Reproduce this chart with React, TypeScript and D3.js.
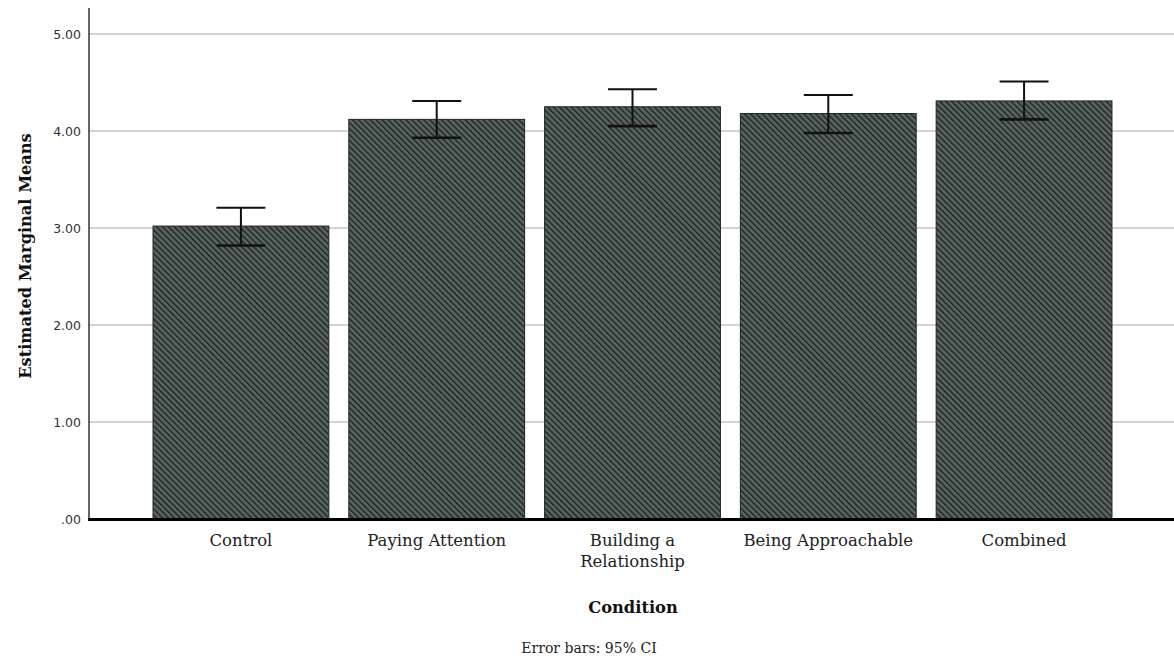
import React from "react";
import * as d3 from "d3";

const categories = ["Control", "Paying Attention", "Building a\nRelationship", "Being Approachable", "Combined"];
const means = [3.02, 4.12, 4.25, 4.18, 4.31];
const ciLow = [2.82, 3.93, 4.05, 3.98, 4.12];
const ciHigh = [3.21, 4.31, 4.43, 4.37, 4.51];
const yTicks = [0, 1, 2, 3, 4, 5];

const W = 1174;
const H = 659;
const SERIF = "DejaVu Serif, serif";

export default function App() {
  const x = d3.scaleBand<string>().domain(categories).range([89, 1176]).paddingInner(0.102).paddingOuter(0.327);
  const y = d3.scaleLinear().domain([0, 5]).range([519, 34]);
  const fmt = (v: number) => (v === 0 ? ".00" : v.toFixed(2));
  const capHalf = 24.5;
  return (
    <svg width={W} height={H} style={{ position: "absolute", left: 0, top: 0, background: "#fff" }}>
      <defs>
        <pattern id="hatch" width={4.2} height={4.2} patternUnits="userSpaceOnUse" patternTransform="rotate(-45)">
          <rect width={4.2} height={4.2} fill="#56635e" />
          <line x1={0.6} y1={0} x2={0.6} y2={4.2} stroke="#1b211f" strokeWidth={1.4} />
        </pattern>
      </defs>
      {yTicks.filter((t) => t > 0).map((t) => (
        <line key={"g" + t} x1={89} x2={W} y1={y(t)} y2={y(t)} stroke="#c4c4c4" strokeWidth={1.3} />
      ))}
      {yTicks.map((t) => (
        <text key={"t" + t} x={81} y={y(t)} dy="0.36em" textAnchor="end" fontFamily="DejaVu Sans, sans-serif" fontSize={12.5} fill="#333">
          {fmt(t)}
        </text>
      ))}
      {categories.map((c, i) => (
        <g key={c}>
          <rect x={x(c)} y={y(means[i])} width={x.bandwidth()} height={y(0) - y(means[i])} fill="url(#hatch)" stroke="#222" strokeWidth={1} />
        </g>
      ))}
      {categories.map((c, i) => {
        const cx = (x(c) as number) + x.bandwidth() / 2;
        return (
          <g key={"e" + c} stroke="#111" strokeWidth={2}>
            <line x1={cx} x2={cx} y1={y(ciHigh[i])} y2={y(ciLow[i])} />
            <line x1={cx - capHalf} x2={cx + capHalf} y1={y(ciHigh[i])} y2={y(ciHigh[i])} />
            <line x1={cx - capHalf} x2={cx + capHalf} y1={y(ciLow[i])} y2={y(ciLow[i])} strokeWidth={2.6} />
          </g>
        );
      })}
      <line x1={89} x2={89} y1={8} y2={520} stroke="#333" strokeWidth={1.5} />
      <line x1={88} x2={W} y1={y(0) + 0.5} y2={y(0) + 0.5} stroke="#000" strokeWidth={3} />
      {categories.map((c) => {
        const cx = (x(c) as number) + x.bandwidth() / 2;
        const lines = c.split("\n");
        return (
          <text key={"l" + c} x={cx} y={546} textAnchor="middle" fontFamily={SERIF} fontSize={16.5} fill="#222">
            {lines.map((l, j) => (
              <tspan key={j} x={cx} dy={j === 0 ? 0 : 21}>{l}</tspan>
            ))}
          </text>
        );
      })}
      <text x={633} y={613} textAnchor="middle" fontFamily={SERIF} fontSize={16.3} fontWeight="bold" fill="#111">Condition</text>
      <text x={589} y={653} textAnchor="middle" fontFamily={SERIF} fontSize={14} fill="#222">Error bars: 95% CI</text>
      <text transform={`translate(31,${256}) rotate(-90)`} textAnchor="middle" fontFamily={SERIF} fontSize={16.2} fontWeight="bold" fill="#111">Estimated Marginal Means</text>
    </svg>
  );
}
